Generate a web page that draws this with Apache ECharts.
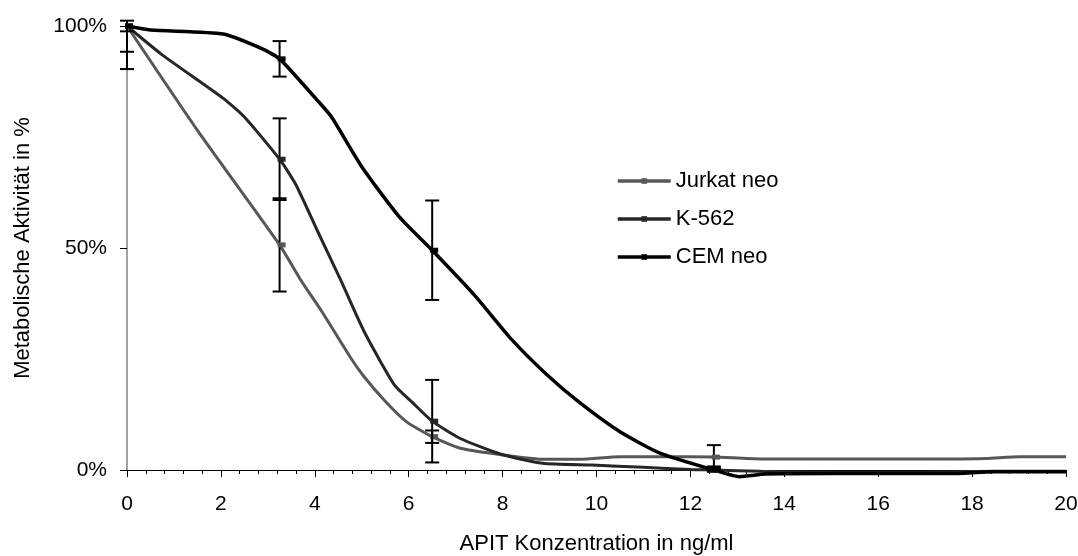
<!DOCTYPE html>
<html>
<head>
<meta charset="utf-8">
<script src="https://cdn.jsdelivr.net/npm/echarts@6/dist/echarts.min.js"></script>
<style>
  html, body { margin: 0; padding: 0; background: #fff; }
  #chart { width: 1078px; height: 556px; }
</style>
</head>
<body>
<div id="chart"></div>
<script>
// Cell lines and their colours
const seriesNames = ['Jurkat neo', 'K-562', 'CEM neo'];
const seriesColors = ['#575757', '#262626', '#000000'];

// Dose–response curves (APIT ng/ml, metabolic activity %)
const jurkatX = [0, 1.5, 3.25, 3.7, 4.15, 4.75, 5.05, 5.5, 5.95, 6.5, 7.1, 8.0, 8.9, 9.65, 10.5, 11.5, 12.5, 13.5, 14.5, 16, 17.5, 18.3, 19, 20];
const jurkatY = [100, 76.5, 50.7, 42.8, 35.7, 25.5, 21, 15.5, 10.9, 7.5, 4.9, 3.4, 2.4, 2.4, 3.0, 3.0, 2.9, 2.5, 2.5, 2.5, 2.5, 2.6, 3.0, 3.0];

const k562X = [0, 0.75, 2.05, 2.5, 3.25, 3.6, 4.05, 4.55, 5.05, 5.7, 6.1, 6.5, 7.1, 7.95, 8.85, 9.9, 11, 12, 12.5, 13.5, 15, 17, 18.5, 20];
const k562Y = [100, 93.5, 83.7, 79.5, 70, 64.2, 54, 42.8, 31.2, 19.1, 15, 11, 7.1, 3.6, 1.5, 1.1, 0.6, 0.1, 0, -0.3, -0.5, -0.5, -0.3, -0.3];

const cemX = [0, 0.5, 2.05, 2.85, 3.25, 4.05, 4.35, 5.0, 5.8, 6.5, 7.4, 8.2, 8.95, 9.65, 10.5, 11.35, 12.5, 13.05, 13.6, 15, 17.5, 18.5, 20];
const cemY = [100, 99.1, 98.2, 95, 92.6, 83.3, 79.6, 68.3, 57, 49.5, 39.4, 29.3, 21.4, 15.1, 8.6, 3.8, 0, -1.5, -0.9, -0.8, -0.8, -0.4, -0.4];

// Measured concentrations with mean and standard deviation
const measuredX = [0, 3.25, 6.5, 12.5];
const jurkatMean = [100, 50.7, 7.5, 2.9];
const jurkatErr = [9.7, 10.5, 1.4, 2.7];
const k562Mean = [100, 70, 11, 0];
const k562Err = [5.8, 9.2, 9.3, 0.4];
const cemMean = [100, 92.6, 49.5, 0.3];
const cemErr = [1.2, 4, 11.2, 0.5];

// Axis setup
const xMin = 0, xMax = 20, xStep = 2;
const yMin = 0, yMax = 100, yStep = 50;
const xTitle = 'APIT Konzentration in ng/ml';
const yTitle = 'Metabolische Aktivität in %';

const curves = [
  { x: jurkatX, y: jurkatY, mean: jurkatMean, err: jurkatErr, width: 3 },
  { x: k562X, y: k562Y, mean: k562Mean, err: k562Err, width: 3 },
  { x: cemX, y: cemY, mean: cemMean, err: cemErr, width: 3.5 }
];

const FONT = '"Liberation Sans", Arial, sans-serif';

function zip(a, b) { return a.map((v, i) => [v, b[i]]); }

// Vertical error bar with caps plus a small square marker at the mean
function errorBarRenderer(color) {
  return function (params, api) {
    const x = api.value(0), m = api.value(1), e = api.value(2);
    const p = api.coord([x, m]);
    const hi = api.coord([x, m + e]);
    const lo = api.coord([x, m - e]);
    const topLimit = params.coordSys.y - 6;
    const capHalf = 7;
    const stroke = { stroke: '#000', lineWidth: 2 };
    const yTop = Math.max(hi[1], topLimit);
    const children = [
      { type: 'line', shape: { x1: p[0], y1: yTop, x2: p[0], y2: lo[1] }, style: stroke }
    ];
    if (hi[1] >= topLimit) {
      children.push({ type: 'line', shape: { x1: p[0] - capHalf, y1: hi[1], x2: p[0] + capHalf, y2: hi[1] }, style: stroke });
    }
    children.push({ type: 'line', shape: { x1: p[0] - capHalf, y1: lo[1], x2: p[0] + capHalf, y2: lo[1] }, style: stroke });
    children.push({ type: 'rect', shape: { x: p[0] - 2, y: p[1] - 2.5, width: 8, height: 5 }, style: { fill: color } });
    return { type: 'group', children: children };
  };
}

const series = [];
curves.forEach((c, i) => {
  series.push({
    name: seriesNames[i],
    type: 'line',
    data: zip(c.x, c.y),
    smooth: 0.2,
    symbol: 'rect',
    symbolSize: [8, 5],
    showSymbol: false,
    clip: false,
    lineStyle: { color: seriesColors[i], width: c.width },
    itemStyle: { color: seriesColors[i] },
    z: 2 + i
  });
});
curves.forEach((c, i) => {
  series.push({
    name: seriesNames[i] + ' SD',
    type: 'custom',
    renderItem: errorBarRenderer(seriesColors[i]),
    data: measuredX.map((x, k) => [x, c.mean[k], c.err[k]]),
    encode: { x: 0, y: 1 },
    clip: false,
    z: 10
  });
});

const chart = echarts.init(document.getElementById('chart'), null, { renderer: 'canvas' });
chart.setOption({
  animation: false,
  backgroundColor: '#ffffff',
  grid: { left: 127, right: 12, top: 26, bottom: 86, containLabel: false, outerBoundsMode: 'none' },
  legend: {
    data: seriesNames,
    orient: 'vertical',
    left: 616,
    top: 169,
    padding: 0,
    itemWidth: 53,
    itemHeight: 7,
    itemGap: 14,
    lineStyle: { width: 3.5 },
    textStyle: { fontFamily: FONT, fontSize: 22, color: '#000', lineHeight: 24 }
  },
  xAxis: {
    type: 'value',
    min: xMin, max: xMax, interval: xStep,
    name: xTitle,
    nameLocation: 'middle',
    nameGap: 63,
    nameTextStyle: { fontFamily: FONT, fontSize: 22, color: '#000' },
    axisLine: { show: true, onZero: false, lineStyle: { color: '#000', width: 1 } },
    axisTick: { show: true, length: 7, lineStyle: { color: '#000', width: 1 } },
    minorTick: { show: true, splitNumber: 5, length: 4, lineStyle: { color: '#000', width: 1 } },
    axisLabel: { fontFamily: FONT, fontSize: 21, color: '#000', margin: 24 },
    splitLine: { show: false },
    minorSplitLine: { show: false }
  },
  yAxis: {
    type: 'value',
    min: yMin, max: yMax, interval: yStep,
    name: yTitle,
    nameLocation: 'middle',
    nameGap: 93,
    nameRotate: 90,
    nameTextStyle: { fontFamily: FONT, fontSize: 22, color: '#000' },
    axisLine: { show: true, lineStyle: { color: '#808080', width: 1.5 } },
    axisTick: { show: true, length: 7, lineStyle: { color: '#000', width: 1 } },
    axisLabel: { fontFamily: FONT, fontSize: 21, color: '#000', margin: 20, formatter: '{value}%' },
    splitLine: { show: false }
  },
  series: series
});
</script>
</body>
</html>
